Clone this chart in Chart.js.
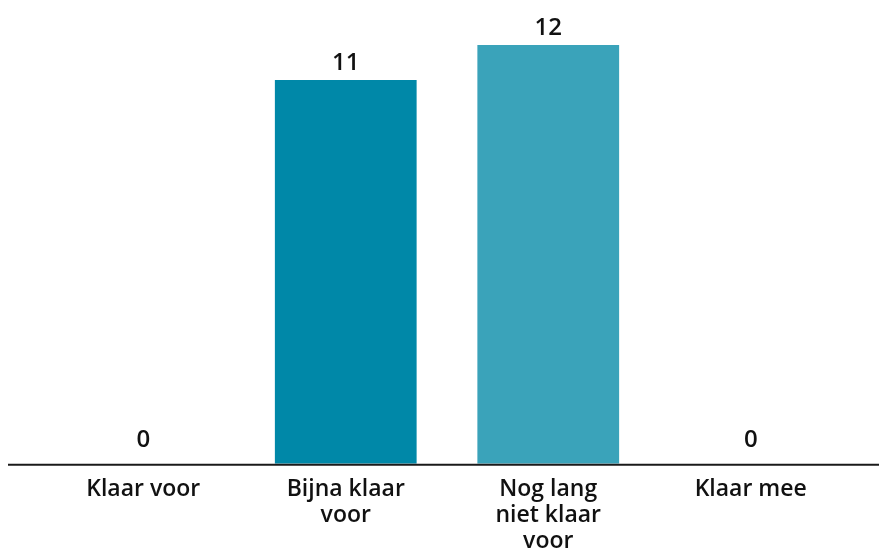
<!DOCTYPE html>
<html>
<head>
<meta charset="utf-8">
<script src="https://cdn.jsdelivr.net/npm/chart.js@4/dist/chart.umd.min.js"></script>
<style>
  html, body { margin: 0; padding: 0; background: #fff; }
  #wrap { width: 879px; height: 550px; }
</style>
</head>
<body>
<div id="wrap"><canvas id="bars"></canvas></div>
<script>
const categories = [
    ['Klaar voor'],
    ['Bijna klaar', 'voor'],
    ['Nog lang', 'niet klaar', 'voor'],
    ['Klaar mee']
];
const values = [0, 11, 12, 0];
const barColors = ['#0088a8', '#0088a8', '#3aa3ba', '#3aa3ba'];

const FONT = '"Open Sans", sans-serif';

// value above each bar + the long baseline under the bars
const barExtras = {
    id: 'barExtras',
    afterDatasetsDraw(chart) {
        const ctx = chart.ctx;
        const meta = chart.getDatasetMeta(0);
        const zeroY = chart.scales.y.getPixelForValue(0);

        ctx.save();
        ctx.strokeStyle = '#1a1a1a';
        ctx.lineWidth = 2;
        ctx.beginPath();
        ctx.moveTo(8, zeroY + 1);
        ctx.lineTo(chart.width, zeroY + 1);
        ctx.stroke();

        ctx.fillStyle = '#111';
        ctx.font = '600 24px ' + FONT;
        ctx.textAlign = 'center';
        ctx.textBaseline = 'bottom';
        meta.data.forEach((bar, i) => {
            const off = values[i] === 0 ? 12 : 5;
            ctx.fillText(String(values[i]), bar.x, bar.y - off);
        });
        ctx.restore();
    }
};

new Chart(document.getElementById('bars'), {
    type: 'bar',
    data: {
        labels: categories,
        datasets: [{
            data: values,
            backgroundColor: barColors,
            borderWidth: 0,
            categoryPercentage: 0.7,
            barPercentage: 1.0
        }]
    },
    options: {
        responsive: true,
        maintainAspectRatio: false,
        animation: false,
        layout: { padding: { left: 42, right: 27, top: 45, bottom: -17 } },
        plugins: {
            legend: { display: false },
            tooltip: { enabled: false }
        },
        scales: {
            x: {
                grid: { display: false, drawTicks: false },
                border: { display: false },
                ticks: {
                    color: '#111',
                    padding: 13,
                    maxRotation: 0,
                    font: { family: FONT, size: 23, weight: '600', lineHeight: 1.12 }
                }
            },
            y: {
                display: false,
                min: 0,
                max: 12
            }
        }
    },
    plugins: [barExtras]
});
</script>
</body>
</html>
